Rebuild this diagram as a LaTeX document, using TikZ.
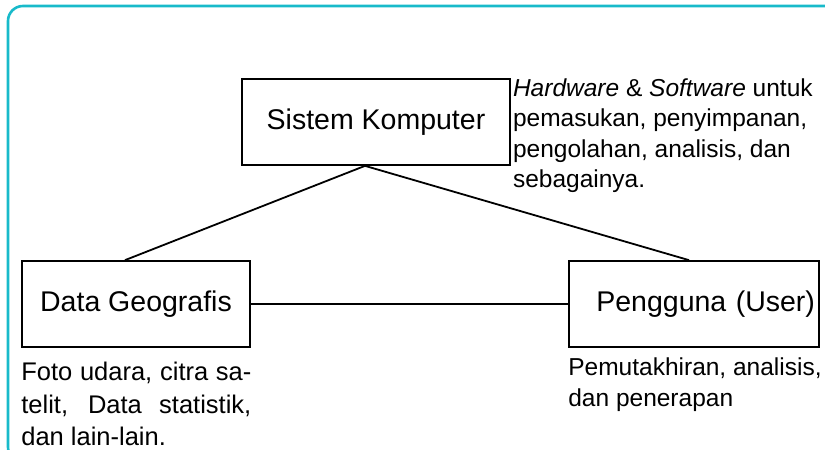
\documentclass[tikz,border=0pt]{standalone}
\usepackage{fontspec}
\setmainfont{Liberation Sans}
\usepackage{tikz}
\usetikzlibrary{positioning}
\definecolor{rahmen}{RGB}{24,186,202}
\newcommand{\barispenuh}[1]{\makebox[230pt][s]{#1}}

\begin{document}
\begin{tikzpicture}[x=1pt, y=-1pt,
		kotak/.style={draw, line width=1.7pt, inner sep=0pt, font=\fontsize{28.5}{32}\selectfont},
		catatan/.style={inner sep=0pt, align=left, font=\fontsize{24.5}{30.5}\selectfont},
		garis/.style={line width=1.8pt}]
	\useasboundingbox (0,0) rectangle (825,450);
	\draw[rahmen, line width=2.6pt, rounded corners=15pt] (40,462) -- (8,462) -- (8,6) -- (840,6);
	\node[kotak, minimum width=268pt, minimum height=86pt] (komputer) at (376,122) {Sistem Komputer};
	\node[kotak, minimum width=228pt, minimum height=86pt] (geografis) at (136,304) {Data Geografis};
	\node[kotak, minimum height=86pt, text width=242pt, inner xsep=4pt, align=right] (pengguna) at (694,304) {Pengguna (User)};
	\node[catatan, below right=0pt and 2pt of komputer.north east] (perangkat) {\textit{Hardware} \& \textit{Software} untuk\\pemasukan, penyimpanan,\\pengolahan, analisis, dan\\sebagainya.};
	\node[catatan, font=\fontsize{25.5}{32.5}\selectfont, below right=14pt and 0pt of geografis.south west] (sumber) {\barispenuh{Foto udara, citra sa-}\\\barispenuh{telit, Data statistik,}\\dan lain-lain.};
	\node[catatan, below right=10pt and 0pt of pengguna.south west] (kegunaan) {Pemutakhiran, analisis,\\dan penerapan};
	\foreach \ujung/\geser in {geografis/-11pt, pengguna/-5pt} {
		\draw[garis] ([xshift=-11pt]komputer.south) -- ([xshift=\geser]\ujung.north);
	}
	\draw[garis] (geografis) -- (pengguna);
\end{tikzpicture}
\end{document}
